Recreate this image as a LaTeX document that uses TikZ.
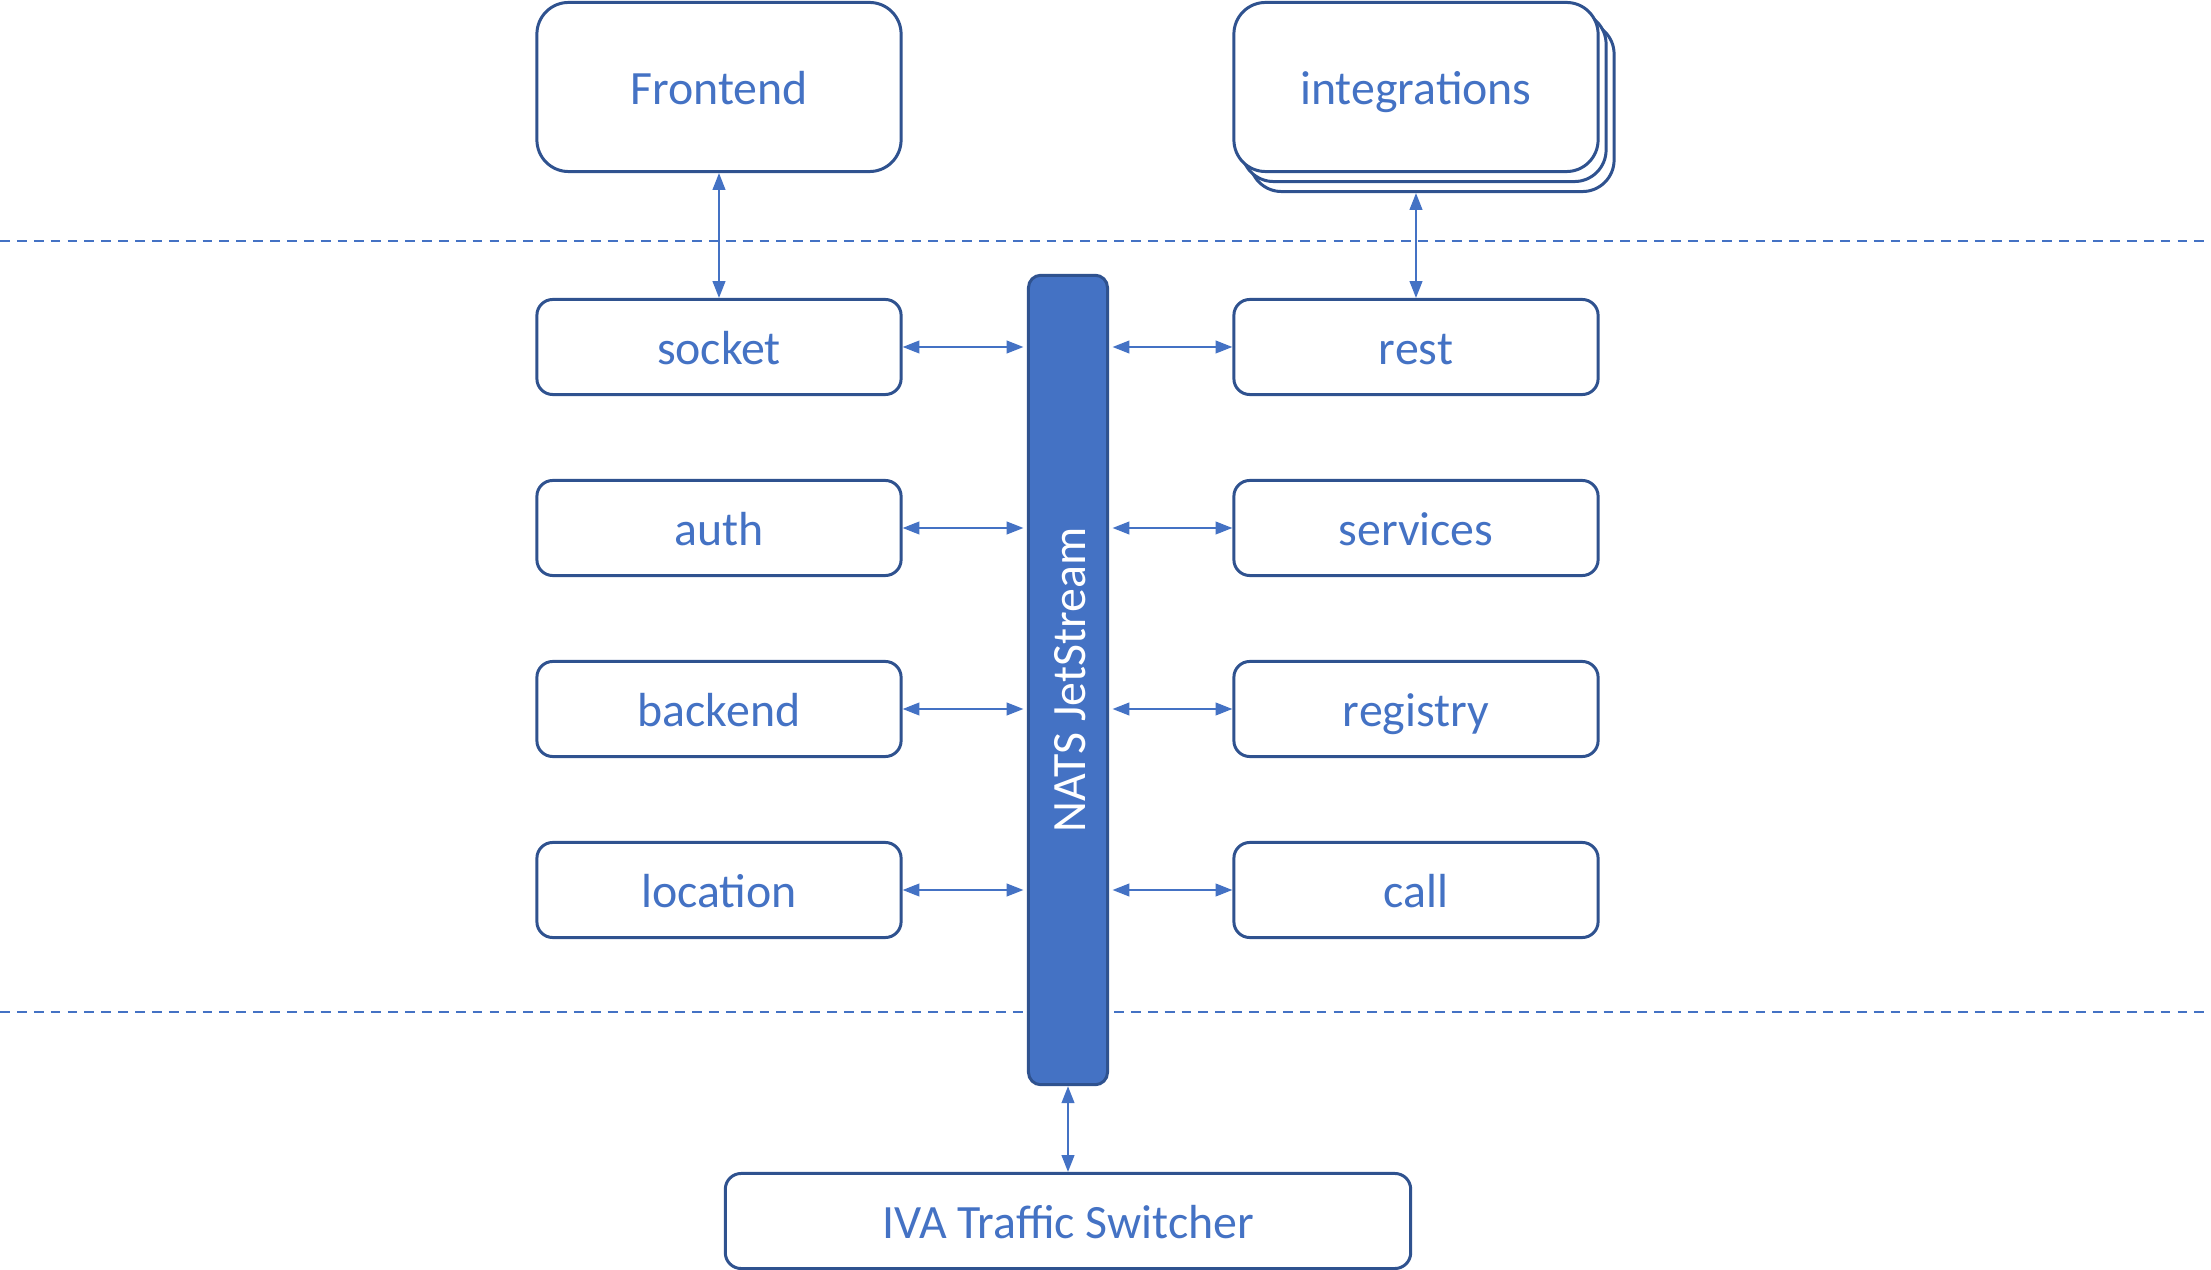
\documentclass[tikz,border=0pt]{standalone}
\usepackage{fontspec}
\setmainfont{Carlito}
\usetikzlibrary{arrows.meta}
\definecolor{accent}{HTML}{4472C4}
\definecolor{edge}{HTML}{2F528F}

\begin{document}
\begin{tikzpicture}[x=0.01cm,y=-0.01cm]
            \tikzset{
	box/.style={draw=edge, line width=.85pt, rounded corners=4.5pt, fill=white, text=accent,
		minimum width=3.64cm, minimum height=.95cm, inner sep=0pt, text height=11.5pt, text depth=1.7pt,
		font=\fontsize{13.6}{16}\selectfont},
	bigbox/.style={box, minimum height=1.69cm, rounded corners=9pt},
	bar/.style={draw=edge, line width=.85pt, fill=accent, rounded corners=3.5pt,
		minimum width=.79cm, minimum height=8.09cm, inner sep=0pt},
	bartext/.style={rotate=90, text=white, text height=11.5pt, text depth=1.7pt, font=\fontsize{13.6}{16}\selectfont},
	link/.style={draw=accent, line width=.6pt, {Triangle[length=4.8pt,width=3.6pt]}-{Triangle[length=4.8pt,width=3.6pt]}},
	layer/.style={draw=accent, line width=.45pt, dash pattern=on 2.8pt off 2pt}
}
\useasboundingbox (0,0) rectangle (2211,1270);

% layer borders
\draw[layer] (0,241) -- (2211,241);
\draw[layer] (0,1012) -- (2211,1012);

% top
\node[bigbox] (frontend) at (719,87) {Frontend};
\node[bigbox] (integ3) at (1432,107) {};
\node[bigbox] (integ2) at (1424,97) {};
\node[bigbox] (integ) at (1416,87) {integrations};

% services
\node[box] (socket) at (719,347) {socket};
\node[box] (auth) at (719,528) {auth};
\node[box] (backend) at (719,709) {backend};
\node[box] (location) at (719,890) {location};
\node[box] (rest) at (1416,347) {rest};
\node[box] (services) at (1416,528) {services};
\node[box] (registry) at (1416,709) {registry};
\node[box] (call) at (1416,890) {call};

% bus
\node[bar] (nats) at (1068,680) {};
\node[bartext] (natslabel) at (nats) {NATS JetStream};

% bottom
\node[box, minimum width=6.85cm] (iva) at (1068,1221) {IVA Traffic Switcher};

\foreach \n in {socket,auth,backend,location}
	\draw[link, shorten >=1pt] (\n.east) -- (\n.east -| nats.west);
\foreach \n in {rest,services,registry,call}
	\draw[link, shorten <=1pt] (\n.west -| nats.east) -- (\n.west);

\draw[link] (frontend) -- (socket);
\draw[link] (integ3.south -| rest.north) -- (rest);
\draw[link] (nats) -- (iva);
        \end{tikzpicture}
\end{document}
